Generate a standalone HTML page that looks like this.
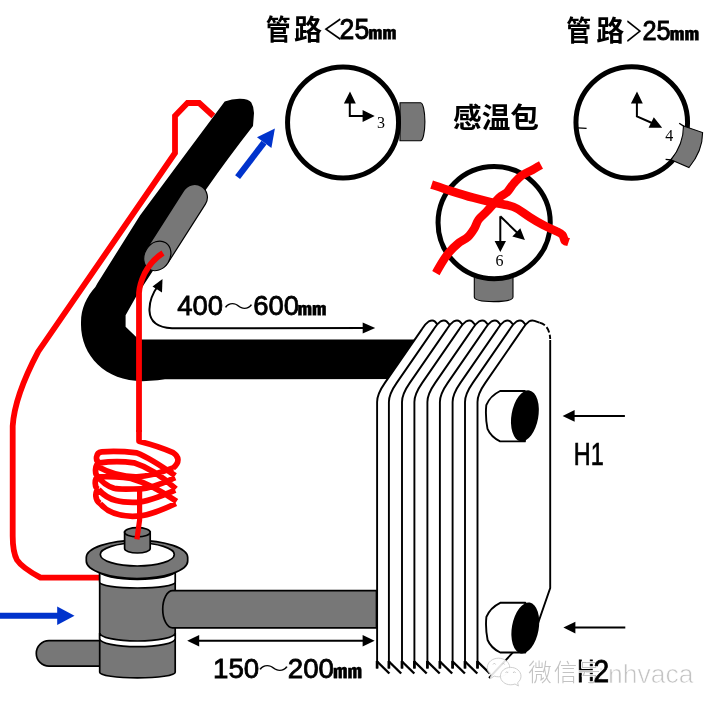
<!DOCTYPE html>
<html><head><meta charset="utf-8"><title>感温包</title>
<style>html,body{margin:0;padding:0;background:#fff;overflow:hidden}svg{display:block;will-change:transform}</style></head>
<body>
<svg width="717" height="708" viewBox="0 0 717 708">
<rect width="717" height="708" fill="#fff"/>
<path d="M224.7,101.5 Q232,98.6 240,98.7 Q249,99 251.3,102.5 Q254,107 254,113 L253,126 Q228,158 206.7,188.5 L136.3,296.3 L125.6,315.3 L125.6,326.8 L138.8,339.6 L420,339.6 L420,379 L165,379.2 Q158,380.3 150,380.8 C108,384.5 80,357 81,322.5 C81,308 86.5,297 95.4,286.9 L97.3,283.4 L140,215.6 L185.2,154.6 Z" fill="#000"/>
<g>
<line x1="194.6" y1="197.3" x2="157.4" y2="255.6" stroke="#000" stroke-width="26.8" stroke-linecap="round"/>
<line x1="194.6" y1="197.3" x2="157.4" y2="255.6" stroke="#777777" stroke-width="24.4" stroke-linecap="round"/>
<ellipse cx="157.3" cy="255.9" rx="12.7" ry="15.6" transform="rotate(32.5 157.3 255.9)" fill="#777777" stroke="#000" stroke-width="1.2"/>
</g>
<path d="M213.4,116 L199.2,103 L187.5,103 L175,116 L175,153 L38.3,351.4 C29.5,368 14.5,398 12.7,426 L12.7,536 C12.7,547 13.8,554 17,560 C21,566 30,572 40.5,577.6 L100.3,577.6" fill="none" stroke="#ff0000" stroke-width="5.8" stroke-linejoin="miter"/>
<path d="M163,253 C155,258 148.5,266 144.6,273.4 C142,279 139.5,285 139,293 L139,432" fill="none" stroke="#ff0000" stroke-width="5.8"/>
<path d="M139,430 L139,441.2 C150,444 165,449 173.1,452.6 C178.5,456 180.5,462 173.1,467.9 M173.1,467.9 C160,473 147,476.5 136.8,476.8 C125,477 113,475 97.4,466.5 M101.6,451.9 C112,451 125,451.5 136.8,452.8 C150,458 163,467 175.2,475.6 M101.6,451.9 C95.5,452.5 95,461 99.5,462.8 M99.5,462.8 C110,461.5 124,461.5 134,462.8 C146,466.5 160.5,475 175.9,488.8 M99.5,462.8 C94.5,464.5 94.5,474.5 98,476.5 M175.2,477.7 C165,482 152,488.5 141,488.8 C130,489 120,489.8 114,488.3 C107,486 101,481 98,476.5 M98,476.5 C108,476.5 120,477 131,478.5 C145,482.5 160,490 176.6,501.4 M98,476.5 C94,479 94.5,488 98.5,489.5 M175.2,490.2 C162,496 148,502 136.8,502.3 C122,502.8 109,501.5 98.5,489.5 M98.5,489.5 C94.5,492 95,500.5 100,503.5 M175.9,503.5 C163,509.5 148,516 136.8,516.2 C122,517 109,514 100,503.5" fill="none" stroke="#ff0000" stroke-width="5.7" stroke-linejoin="round"/>
<g stroke="#000" stroke-width="1.7">
<path d="M36.3,653.3 a12.7,12.7 0 0 1 12.7,-12.7 L105,640.6 L105,666.1 L49,666.1 a12.7,12.7 0 0 1 -12.7,-12.7 Z" fill="#777777"/>
<path d="M99.7,560 L99.7,672.2 A37.75,5.7 0 0 0 175.2,672.2 L175.2,560 Z" fill="#777777"/>
<path d="M99.7,571 A37.75,8.3 0 0 0 175.2,571 L175.2,582.3 A37.75,5.7 0 0 1 99.7,582.3 Z" fill="#fff"/>
<path d="M99.7,633 A37.75,8 0 0 0 175.2,633 L175.2,638.7 A37.75,8 0 0 1 99.7,638.7 Z" fill="#fff"/>
<path d="M376.5,590.7 L172.7,590.7 A10,18.55 0 0 0 172.7,627.8 L376.5,627.8 Z" fill="#777777"/>
<path d="M86.3,557.6 A50.7,17.3 0 0 1 187.7,557.6 L187.7,561 A50.7,17.5 0 0 1 86.3,561 Z" fill="#777777"/>
<ellipse cx="137.3" cy="554.5" rx="37" ry="11.5" fill="#fff"/>
<path d="M124.6,532.2 L124.6,548.6 a12.8,4.4 0 0 0 25.6,0 L150.2,532.2 Z" fill="#777777"/><ellipse cx="137.4" cy="532.2" rx="12.8" ry="4.6" fill="#777777"/>
</g>
<path d="M139.6,488.8 L139.6,520 L136.9,539.4" fill="none" stroke="#ff0000" stroke-width="5.2"/>
<path d="M377.1,668.5 L377.1,402 C377.1,396 379.6,390.5 384.9,382.9 L422.0,329.1 Q425.6,323.5 428.9,321.3 Q432.6,319.5 434.9,321.5 L437.9,324.8 L550.2,326 L550.2,668.5 Z" fill="#fff"/>
<path d="M377.1,668.5 L377.1,402 C377.1,396 379.6,390.5 384.9,382.9 L422.0,329.1 Q425.6,323.5 428.9,321.3 Q432.6,319.5 434.9,321.5 L437.9,324.8" fill="none" stroke="#000" stroke-width="1.9" stroke-linejoin="round"/>
<path d="M377.1,661 L377.1,668.5" stroke="#000" stroke-width="2.7"/><path d="M377.1,661.5 L389.4,673.5" fill="none" stroke="#000" stroke-width="2.4"/>
<path d="M388.9,668.5 L388.9,402 C388.9,396 391.4,390.5 396.7,382.9 L433.8,329.1 Q437.4,323.5 440.7,321.3 Q444.4,319.5 446.7,321.5 L449.7,324.8 L550.2,326 L550.2,668.5 Z" fill="#fff"/>
<path d="M388.9,668.5 L388.9,402 C388.9,396 391.4,390.5 396.7,382.9 L433.8,329.1 Q437.4,323.5 440.7,321.3 Q444.4,319.5 446.7,321.5 L449.7,324.8" fill="none" stroke="#000" stroke-width="1.9" stroke-linejoin="round"/>
<path d="M388.9,661 L388.9,668.5" stroke="#000" stroke-width="2.7"/><path d="M388.9,661.5 L401.2,673.5" fill="none" stroke="#000" stroke-width="2.4"/>
<path d="M402.0,668.5 L402.0,402 C402.0,396 404.5,390.5 409.8,382.9 L446.9,329.1 Q450.5,323.5 453.8,321.3 Q457.5,319.5 459.8,321.5 L462.8,324.8 L550.2,326 L550.2,668.5 Z" fill="#fff"/>
<path d="M402.0,668.5 L402.0,402 C402.0,396 404.5,390.5 409.8,382.9 L446.9,329.1 Q450.5,323.5 453.8,321.3 Q457.5,319.5 459.8,321.5 L462.8,324.8" fill="none" stroke="#000" stroke-width="1.9" stroke-linejoin="round"/>
<path d="M402.0,661 L402.0,668.5" stroke="#000" stroke-width="2.7"/><path d="M402.0,661.5 L414.3,673.5" fill="none" stroke="#000" stroke-width="2.4"/>
<path d="M414.4,668.5 L414.4,402 C414.4,396 416.9,390.5 422.2,382.9 L459.3,329.1 Q462.9,323.5 466.2,321.3 Q469.9,319.5 472.2,321.5 L475.2,324.8 L550.2,326 L550.2,668.5 Z" fill="#fff"/>
<path d="M414.4,668.5 L414.4,402 C414.4,396 416.9,390.5 422.2,382.9 L459.3,329.1 Q462.9,323.5 466.2,321.3 Q469.9,319.5 472.2,321.5 L475.2,324.8" fill="none" stroke="#000" stroke-width="1.9" stroke-linejoin="round"/>
<path d="M414.4,661 L414.4,668.5" stroke="#000" stroke-width="2.7"/><path d="M414.4,661.5 L426.7,673.5" fill="none" stroke="#000" stroke-width="2.4"/>
<path d="M427.4,668.5 L427.4,402 C427.4,396 429.9,390.5 435.2,382.9 L472.3,329.1 Q475.9,323.5 479.2,321.3 Q482.9,319.5 485.2,321.5 L488.2,324.8 L550.2,326 L550.2,668.5 Z" fill="#fff"/>
<path d="M427.4,668.5 L427.4,402 C427.4,396 429.9,390.5 435.2,382.9 L472.3,329.1 Q475.9,323.5 479.2,321.3 Q482.9,319.5 485.2,321.5 L488.2,324.8" fill="none" stroke="#000" stroke-width="1.9" stroke-linejoin="round"/>
<path d="M427.4,661 L427.4,668.5" stroke="#000" stroke-width="2.7"/><path d="M427.4,661.5 L439.7,673.5" fill="none" stroke="#000" stroke-width="2.4"/>
<path d="M439.9,668.5 L439.9,402 C439.9,396 442.4,390.5 447.7,382.9 L484.8,329.1 Q488.4,323.5 491.7,321.3 Q495.4,319.5 497.7,321.5 L500.7,324.8 L550.2,326 L550.2,668.5 Z" fill="#fff"/>
<path d="M439.9,668.5 L439.9,402 C439.9,396 442.4,390.5 447.7,382.9 L484.8,329.1 Q488.4,323.5 491.7,321.3 Q495.4,319.5 497.7,321.5 L500.7,324.8" fill="none" stroke="#000" stroke-width="1.9" stroke-linejoin="round"/>
<path d="M439.9,661 L439.9,668.5" stroke="#000" stroke-width="2.7"/><path d="M439.9,661.5 L452.2,673.5" fill="none" stroke="#000" stroke-width="2.4"/>
<path d="M452.6,668.5 L452.6,402 C452.6,396 455.1,390.5 460.4,382.9 L497.5,329.1 Q501.1,323.5 504.4,321.3 Q508.1,319.5 510.4,321.5 L513.4,324.8 L550.2,326 L550.2,668.5 Z" fill="#fff"/>
<path d="M452.6,668.5 L452.6,402 C452.6,396 455.1,390.5 460.4,382.9 L497.5,329.1 Q501.1,323.5 504.4,321.3 Q508.1,319.5 510.4,321.5 L513.4,324.8" fill="none" stroke="#000" stroke-width="1.9" stroke-linejoin="round"/>
<path d="M452.6,661 L452.6,668.5" stroke="#000" stroke-width="2.7"/><path d="M452.6,661.5 L464.9,673.5" fill="none" stroke="#000" stroke-width="2.4"/>
<path d="M465.0,668.5 L465.0,402 C465.0,396 467.5,390.5 472.8,382.9 L509.9,329.1 Q513.5,323.5 516.8,321.3 Q520.5,319.5 522.8,321.5 L525.8,324.8 L550.2,326 L550.2,668.5 Z" fill="#fff"/>
<path d="M465.0,668.5 L465.0,402 C465.0,396 467.5,390.5 472.8,382.9 L509.9,329.1 Q513.5,323.5 516.8,321.3 Q520.5,319.5 522.8,321.5 L525.8,324.8" fill="none" stroke="#000" stroke-width="1.9" stroke-linejoin="round"/>
<path d="M465.0,661 L465.0,668.5" stroke="#000" stroke-width="2.7"/><path d="M465.0,661.5 L477.3,673.5" fill="none" stroke="#000" stroke-width="2.4"/>
<path d="M477.5,668.5 L477.5,402 C477.5,396 480.0,390.5 485.3,382.9 L522.4,329.1 Q526.0,323.5 529.3,321.3 Q531.5,320 534.5,320.8 L539.5,322.6 L550.2,326 L550.2,668.5 Z" fill="#fff"/>
<path d="M477.5,668.5 L477.5,402 C477.5,396 480.0,390.5 485.3,382.9 L522.4,329.1 Q526.0,323.5 529.3,321.3 Q531.5,320 534.5,320.8 L539.5,322.6" fill="none" stroke="#000" stroke-width="1.9" stroke-linejoin="round"/>
<path d="M477.5,661 L477.5,668.5" stroke="#000" stroke-width="2.7"/><path d="M477.5,661.5 L489.8,673.5" fill="none" stroke="#000" stroke-width="2.4"/>
<path d="M539.5,322.6 Q549.5,325 550.2,339" fill="none" stroke="#000" stroke-width="1.9" stroke-dasharray="6 2.5"/>
<path d="M550.2,340 L550.2,588 L536,629 L512,653.4 L489,678" fill="none" stroke="#000" stroke-width="1.9"/>
<path d="M524.9,391.0 L500.1,391.0 Q490.0,396.0 486.3,405.1 Q485.1,416.2 487.5,428.9 Q491.0,437.0 500.1,441.4 L524.9,441.4 Z" fill="#fff" stroke="#000" stroke-width="1.9" stroke-linejoin="round"/><ellipse cx="524.9" cy="415.8" rx="13.4" ry="25.8" transform="rotate(10 524.9 415.8)" fill="#000"/>
<path d="M525.3,602.8 L500.2,602.8 Q490.1,607.8 486.4,616.9 Q485.2,627.6 487.6,640.0 Q491.1,648.1 500.2,652.5 L525.3,652.5 Z" fill="#fff" stroke="#000" stroke-width="1.9" stroke-linejoin="round"/><ellipse cx="525.3" cy="628.0" rx="13.4" ry="25.8" transform="rotate(10 525.3 628.0)" fill="#000"/>
<path d="M573.6,415.9 L624.9,415.9" stroke="#000" stroke-width="2"/><path d="M562.6,415.9 L574.6,410.1 L574.6,421.7 Z" fill="#000"/>
<path d="M574.4,627.6 L625.3,627.6" stroke="#000" stroke-width="2"/><path d="M563.4,627.6 L575.4,621.8 L575.4,633.4 Z" fill="#000"/>
<path d="M198.2,640.7 L300.0,640.7" stroke="#000" stroke-width="2"/><path d="M187.2,640.7 L199.2,634.9 L199.2,646.5 Z" fill="#000"/>
<path d="M363.6,640.7 L300.0,640.7" stroke="#000" stroke-width="2"/><path d="M374.6,640.7 L362.6,634.9 L362.6,646.5 Z" fill="#000"/>
<path d="M158.5,285 C152,294 149,302 149.5,311 C150,322 158,327.5 172,328.3 L365,328" fill="none" stroke="#000" stroke-width="2"/>
<path d="M375.2,327.9 L362.7,322.4 L362.7,333.4 Z" fill="#000"/>
<path d="M162.5,279 L162,292.5 L152.5,286.5 Z" fill="#000"/>
<path d="M0,615.7 L58,615.7" stroke="#0033cc" stroke-width="6"/><path d="M74.5,615.7 L57.2,606.5 L57.2,624.9 Z" fill="#0033cc"/>
<path d="M237.6,177.2 L264,142.6" stroke="#0033cc" stroke-width="6.2"/><path d="M274.9,128.6 L257,137.2 L271.4,148 Z" fill="#0033cc"/>
<path d="M400,102.7 L420.6,102.7 A4.3,19.05 0 0 1 420.6,140.8 L400,140.8 Z" fill="#777777" stroke="#000" stroke-width="1.1"/>
<circle cx="343.05" cy="122.4" r="55.5" fill="#fff" stroke="#000" stroke-width="5"/>
<path d="M349.8,102 L349.8,116.1 L364,116.1" fill="none" stroke="#000" stroke-width="2"/><path d="M350,91.6 L343.9,103.5 L355.8,103.5 Z M374.7,116.1 L362.6,110 L362.6,122.1 Z" fill="#000"/>
<circle cx="631.75" cy="122.45" r="55.8" fill="#fff" stroke="#000" stroke-width="5"/>
<path d="M683.5,126.1 L702.6,132.6 C702.6,146 697,158 689,167.5 L671,159.8 C679,150 683.5,139 683.5,126.1 Z" fill="#777777" stroke="#000" stroke-width="1.1"/>
<path d="M679.2,123.2 L684,126.4 M665.6,159.3 L671.5,160" stroke="#000" stroke-width="1.3"/>
<path d="M577.7,127.9 L586.6,128.4" stroke="#000" stroke-width="1.2"/>
<path d="M636.9,102 L636.9,116.3 L652,123" fill="none" stroke="#000" stroke-width="2"/><path d="M637,91.6 L630.9,103.5 L642.8,103.5 Z M662.2,127.8 L653.8,117.3 L648.6,127.8 Z" fill="#000"/>
<path d="M474.3,270 L474.3,297 Q474.5,301.6 493.6,301.6 Q512.8,301.6 513,297 L513,270 Z" fill="#777777" stroke="#000" stroke-width="1.1"/>
<circle cx="494.15" cy="222.65" r="56.1" fill="#fff" stroke="#000" stroke-width="5"/>
<path d="M500.3,216.3 L500.3,242 M500.3,216.3 L517,232.5" fill="none" stroke="#000" stroke-width="2"/><path d="M500.3,251.9 L494.6,241 L506,241 Z M524.9,239.9 L520.3,228.3 L512.3,236.5 Z" fill="#000"/>
<path d="M431.6,184.6 C434.9,185.7 444.4,188.9 451.3,191.1 C458.2,193.3 466.6,195.9 473.2,197.7 C479.8,199.5 484.9,200.8 490.7,202.1 C496.5,203.4 503.8,204.3 508.2,205.4 C512.6,206.5 513.4,206.6 517.0,208.6 C520.6,210.6 525.7,214.7 530.1,217.4 C534.5,220.2 538.8,222.8 543.2,225.1 C547.6,227.4 553.2,229.5 556.4,231.2 C559.6,232.8 561.1,233.4 562.5,235.0 C563.9,236.6 563.8,239.6 564.8,240.8 C565.8,242.0 568.0,241.8 568.6,242.0" fill="none" stroke="#ff0000" stroke-width="8.5" stroke-linejoin="round"/>
<path d="M541.0,164.9 C539.5,165.7 535.6,168.1 532.3,169.9 C529.0,171.7 524.4,173.5 521.3,175.8 C518.2,178.1 516.1,180.8 513.7,183.5 C511.3,186.2 509.3,190.0 507.1,192.2 C504.9,194.4 502.5,194.9 500.5,196.6 C498.5,198.2 497.5,199.5 495.1,202.1 C492.7,204.7 489.1,209.0 486.3,211.9 C483.6,214.8 480.6,216.8 478.6,219.6 C476.6,222.3 476.1,225.5 474.3,228.4 C472.5,231.3 470.4,234.6 467.7,237.1 C464.9,239.6 460.9,241.1 457.8,243.7 C454.7,246.2 451.8,249.1 449.1,252.4 C446.4,255.7 443.6,259.9 441.4,263.4 C439.2,266.9 436.8,271.6 435.9,273.2" fill="none" stroke="#ff0000" stroke-width="8.5" stroke-linejoin="round"/>
<g font-family='"Liberation Sans","Noto Sans CJK SC",sans-serif' fill="#000">
<text x="265.8" y="40" font-size="28" font-weight="bold" textLength="25" lengthAdjust="spacingAndGlyphs">管</text>
<text x="294" y="40" font-size="28" font-weight="bold">路</text>
<text x="322.4" y="40" font-size="28" textLength="20.5" lengthAdjust="spacingAndGlyphs">＜</text>
<text x="339.6" y="39" font-size="29.3" textLength="29.6" lengthAdjust="spacingAndGlyphs" stroke="#000" stroke-width="0.9">25</text>
<text transform="translate(368.3 38.6) scale(1 0.62)" font-size="28" font-weight="bold" stroke="#000" stroke-width="0.5" textLength="28.2" lengthAdjust="spacingAndGlyphs">㎜</text>
<text x="566.2" y="41.4" font-size="28" font-weight="bold" textLength="25" lengthAdjust="spacingAndGlyphs">管</text>
<text x="596.3" y="41.4" font-size="28" font-weight="bold">路</text>
<text x="625.1" y="42.4" font-size="28" textLength="18" lengthAdjust="spacingAndGlyphs">＞</text>
<text x="642.4" y="39.8" font-size="28" textLength="28.2" lengthAdjust="spacingAndGlyphs" stroke="#000" stroke-width="0.9">25</text>
<text transform="translate(669.8 39.6) scale(1 0.62)" font-size="28" font-weight="bold" stroke="#000" stroke-width="0.5" textLength="29.4" lengthAdjust="spacingAndGlyphs">㎜</text>
<text x="453" y="127.5" font-size="28.5" font-weight="bold" textLength="86" lengthAdjust="spacingAndGlyphs">感温包</text>
<text x="177.2" y="315.4" font-size="28" textLength="45.8" lengthAdjust="spacingAndGlyphs" stroke="#000" stroke-width="0.8">400</text>
<text x="223.5" y="314.5" font-size="24" textLength="30" lengthAdjust="spacingAndGlyphs" font-weight="300">～</text>
<text x="253.2" y="315.4" font-size="28" textLength="45.8" lengthAdjust="spacingAndGlyphs" stroke="#000" stroke-width="0.8">600</text>
<text transform="translate(297.5 315.2) scale(1 0.62)" font-size="28" font-weight="bold" stroke="#000" stroke-width="0.5" textLength="29" lengthAdjust="spacingAndGlyphs">㎜</text>
<text x="213" y="677.5" font-size="28.2" textLength="46.2" lengthAdjust="spacingAndGlyphs" stroke="#000" stroke-width="0.8">150</text>
<text x="258" y="676.5" font-size="24" textLength="31" lengthAdjust="spacingAndGlyphs" font-weight="300">～</text>
<text x="287.8" y="677.5" font-size="28.2" textLength="46.2" lengthAdjust="spacingAndGlyphs" stroke="#000" stroke-width="0.8">200</text>
<text transform="translate(333 677.8) scale(1 0.64)" font-size="28" font-weight="bold" stroke="#000" stroke-width="0.5" textLength="29" lengthAdjust="spacingAndGlyphs">㎜</text>
<text transform="translate(573.8 464.5) scale(0.755 1)" font-size="31" stroke="#000" stroke-width="0.7">H1</text>
<text x="598" y="680" font-size="22" fill="#ededed">:</text>
<text transform="translate(577.2 682) scale(0.755 1)" font-size="31.3" stroke="#000" stroke-width="0.9">H</text>
</g>
<g font-family='"Liberation Serif",serif' font-size="16" fill="#000"><text x="377" y="128.4">3</text><text x="665.2" y="141.1">4</text><text x="495.4" y="265.9">6</text></g>
<g>
<g fill="#fff" fill-opacity="0.88" stroke="#cfcfcf" stroke-width="1">
<path d="M498.5,658.2 c6.2,0 11.2,4.2 11.2,9.3 c0,5.1 -5,9.3 -11.2,9.3 c-1.5,0 -3,-0.3 -4.3,-0.7 l-3.9,2.6 l1,-4 c-2.5,-1.7 -4,-4.3 -4,-7.2 c0,-5.1 5,-9.3 11.2,-9.3 Z"/>
<path d="M510.7,667.4 c5.7,0 10.3,3.9 10.3,8.8 c0,2.6 -1.3,4.9 -3.4,6.5 l0.8,3.3 l-3.4,-2 c-1.3,0.5 -2.8,0.8 -4.3,0.8 c-5.7,0 -10.3,-3.9 -10.3,-8.6 c0,-4.9 4.6,-8.8 10.3,-8.8 Z"/>
</g>
<path d="M493,664.5 l1.3,-1.4 l1.3,1.4 M502,664.5 l1.3,-1.4 l1.3,1.4 M505.5,673 l1.3,-1.4 l1.3,1.4 M513,673 l1.3,-1.4 l1.3,1.4" fill="none" stroke="#c4c4c4" stroke-width="0.9"/>
<g font-family='"Liberation Sans","Noto Sans CJK SC",sans-serif' fill="#c3c3c3" stroke="#fff" stroke-width="1.5" stroke-linejoin="round" paint-order="stroke" font-weight="300">
<text x="528.3" y="681" font-size="23.5">微</text><text x="553.8" y="681" font-size="23.5">信</text><text x="577.3" y="681" font-size="23.5">号</text>
<text x="608" y="683" font-size="26" textLength="85.5" lengthAdjust="spacingAndGlyphs">nhvaca</text>
</g>
<g font-family='"Liberation Sans",sans-serif' fill="none" stroke="#fff" stroke-width="0.7"><text x="608" y="683" font-size="26" textLength="85.5" lengthAdjust="spacingAndGlyphs">nhvaca</text></g>
</g>
<text transform="translate(593.6 682) scale(0.9 1)" font-size="31.3" stroke="#000" stroke-width="0.8" font-family='"Liberation Sans",sans-serif'>2</text>
</svg>
</body></html>
